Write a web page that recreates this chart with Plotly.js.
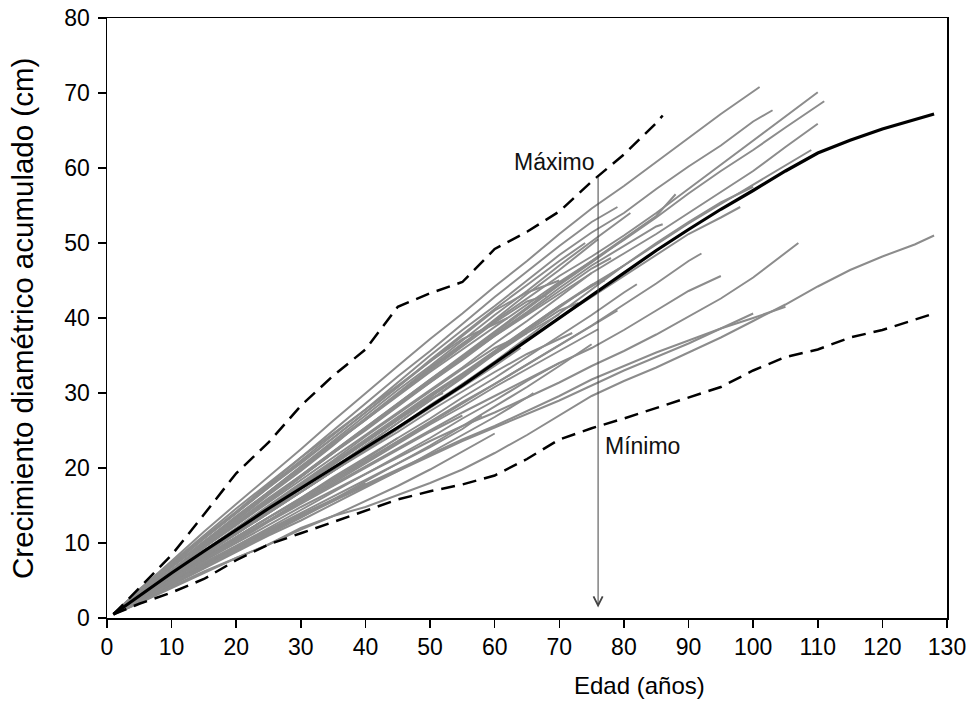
<!DOCTYPE html>
<html>
<head>
<meta charset="utf-8">
<script src="https://cdn.plot.ly/plotly-3.0.1.min.js"></script>
<style>
  html, body { margin: 0; padding: 0; background: #ffffff; }
  #grafico { width: 969px; height: 719px; }
</style>
</head>
<body>
<div id="grafico"></div>
<script>
// Ages (years) at which each ring series is sampled; the last value of every
// series belongs to that tree's final age instead.
const edades = [1, 5, 10, 15, 20, 25, 30, 35, 40, 45, 50, 55, 60, 65, 70, 75, 80, 85, 90, 95, 100, 105, 110, 115, 120, 125];

// Final age of each sampled tree
const edadFinal = [101, 103, 110, 111, 110, 109, 98, 128, 107, 105, 95, 100, 79, 72, 79, 81, 86,
  76, 78, 75, 80, 70, 68, 65, 77, 62, 74, 88, 76, 70, 66, 58, 75, 60, 55, 52, 64, 82, 92, 70, 80, 73, 45, 40, 100];

// Cumulative diameter growth (cm) of each tree
const arboles = [
  [0.5, 3.8, 7.6, 11.5, 15.2, 18.8, 22.5, 26.3, 30.0, 33.6, 37.2, 40.6, 44.2, 47.6, 51.2, 54.6, 57.6, 60.8, 63.9, 67.2, 70.2, 70.8],
  [0.5, 3.4, 7.0, 10.6, 14.0, 17.6, 21.0, 24.4, 27.8, 31.4, 35.0, 38.4, 41.6, 45.0, 48.4, 51.4, 54.0, 57.2, 60.2, 63.0, 66.2, 67.7],
  [0.5, 3.2, 6.4, 9.8, 13.0, 16.4, 19.6, 23.0, 26.6, 30.0, 33.4, 36.6, 39.6, 42.6, 45.6, 48.2, 51.0, 54.0, 57.2, 60.4, 63.6, 66.8, 70.1],
  [0.5, 3.5, 6.8, 10.0, 13.4, 16.8, 20.2, 23.2, 26.4, 29.6, 32.8, 35.8, 38.8, 41.8, 44.8, 47.6, 50.4, 53.4, 56.6, 59.6, 62.4, 65.4, 68.4, 68.9],
  [0.5, 3.0, 6.2, 9.4, 12.4, 15.6, 18.8, 22.0, 25.2, 28.4, 31.4, 34.6, 37.6, 40.4, 43.2, 46.0, 48.6, 51.2, 54.0, 56.8, 59.6, 62.8, 65.9],
  [0.5, 3.2, 6.0, 9.0, 11.8, 14.8, 17.8, 20.8, 23.8, 26.8, 29.8, 32.6, 35.6, 38.6, 41.6, 44.2, 47.0, 49.8, 52.6, 55.2, 57.8, 60.4, 62.4],
  [0.5, 2.8, 5.6, 8.6, 11.2, 14.0, 16.8, 19.6, 22.4, 25.4, 28.4, 31.2, 34.0, 37.0, 40.0, 42.8, 45.6, 48.4, 51.2, 53.4, 54.8],
  [0.5, 2.0, 4.2, 6.2, 8.0, 9.8, 12.0, 13.6, 14.8, 16.4, 18.0, 19.8, 22.0, 24.4, 27.0, 29.6, 31.6, 33.4, 35.4, 37.4, 39.6, 41.8, 44.2, 46.4, 48.2, 49.8, 51.0],
  [0.5, 2.6, 5.2, 7.6, 10.0, 12.4, 14.8, 17.0, 19.2, 21.4, 23.6, 25.6, 27.4, 29.4, 31.4, 33.6, 35.6, 37.8, 40.2, 42.6, 45.4, 48.6, 50.0],
  [0.5, 2.4, 4.8, 7.2, 9.4, 11.6, 13.8, 15.8, 17.8, 19.8, 21.8, 23.8, 25.6, 27.6, 29.6, 31.8, 33.6, 35.4, 37.0, 38.6, 40.0, 41.5],
  [0.5, 2.8, 5.4, 8.0, 10.6, 13.0, 15.4, 17.8, 20.2, 22.6, 25.0, 27.4, 29.6, 31.8, 34.0, 36.0, 38.4, 41.0, 43.6, 45.6],
  [0.5, 2.2, 4.6, 7.0, 9.2, 11.4, 13.6, 15.6, 17.6, 19.6, 21.6, 23.6, 25.4, 27.2, 29.0, 31.0, 33.0, 34.8, 36.6, 38.6, 40.6],
  [0.5, 2.8, 5.6, 8.2, 10.8, 13.4, 15.8, 18.4, 21.0, 23.6, 26.2, 28.8, 31.2, 33.8, 36.4, 39.0, 41.0],
  [0.5, 3.0, 5.8, 8.6, 11.4, 14.2, 16.8, 19.6, 22.2, 24.8, 27.6, 30.2, 32.8, 35.2, 37.2, 38.0],
  [0.5, 3.6, 7.2, 10.8, 14.2, 17.8, 21.4, 25.0, 28.6, 32.2, 35.6, 39.2, 42.8, 46.2, 49.6, 52.8, 54.8],
  [0.5, 3.4, 6.8, 10.2, 13.4, 16.8, 20.2, 23.6, 27.0, 30.4, 33.6, 37.0, 40.4, 43.6, 47.0, 50.2, 53.4, 54.0],
  [0.5, 3.2, 6.4, 9.6, 12.6, 15.6, 18.8, 22.0, 25.2, 28.4, 31.6, 34.6, 37.8, 40.8, 44.0, 47.0, 49.6, 52.2, 52.5],
  [0.5, 3.4, 6.8, 10.0, 13.2, 16.6, 19.8, 23.2, 26.4, 29.8, 33.2, 36.4, 39.8, 43.2, 46.4, 49.8, 50.5],
  [0.5, 3.0, 6.2, 9.4, 12.6, 15.6, 18.8, 22.0, 25.0, 28.2, 31.4, 34.4, 37.6, 40.6, 43.6, 46.6, 48.0],
  [0.5, 3.2, 6.4, 9.4, 12.4, 15.4, 18.4, 21.4, 24.4, 27.4, 30.4, 33.4, 36.6, 39.6, 42.8, 46.0],
  [0.5, 2.8, 5.8, 8.8, 11.8, 14.8, 17.6, 20.6, 23.6, 26.6, 29.6, 32.4, 35.4, 38.4, 41.4, 44.4, 47.0],
  [0.5, 3.6, 7.2, 10.6, 14.0, 17.4, 20.8, 24.0, 27.4, 30.8, 34.2, 37.6, 41.0, 43.4, 45.0],
  [0.5, 3.4, 6.8, 10.2, 13.6, 16.8, 20.0, 23.4, 26.6, 29.8, 33.0, 36.2, 39.4, 42.2, 43.0],
  [0.5, 3.0, 6.0, 9.0, 12.0, 15.0, 18.0, 21.0, 24.2, 27.2, 30.2, 33.2, 36.0, 38.0],
  [0.5, 3.0, 5.8, 8.6, 11.4, 14.4, 17.2, 20.0, 23.0, 26.0, 29.0, 32.2, 35.4, 38.6, 41.6, 44.4, 45.0],
  [0.5, 3.8, 7.4, 11.0, 14.6, 18.0, 21.4, 24.6, 27.8, 31.0, 34.2, 37.2, 39.2, 40.0],
  [0.5, 3.6, 7.2, 10.6, 14.0, 17.4, 20.6, 24.0, 27.4, 30.8, 34.4, 37.8, 41.2, 44.4, 47.6, 50.0],
  [0.5, 3.0, 6.2, 9.4, 12.6, 15.8, 19.0, 22.2, 25.4, 28.6, 31.8, 35.0, 38.2, 41.4, 44.6, 47.6, 50.6, 53.6, 56.5],
  [0.5, 2.6, 5.2, 7.8, 10.4, 13.0, 15.6, 18.0, 20.6, 23.2, 25.8, 28.2, 30.8, 33.2, 35.6, 38.0, 38.5],
  [0.5, 2.4, 4.8, 7.2, 9.6, 12.0, 14.4, 16.8, 19.2, 21.6, 24.0, 26.6, 29.0, 31.6, 34.0],
  [0.5, 2.2, 4.4, 6.6, 8.8, 11.0, 13.0, 15.2, 17.4, 19.6, 22.0, 24.4, 26.8, 29.4, 30.0],
  [0.5, 2.6, 5.0, 7.4, 9.6, 11.8, 14.0, 16.2, 18.4, 20.6, 22.8, 25.2, 27.0],
  [0.5, 2.4, 4.6, 6.8, 9.0, 11.2, 13.4, 15.8, 18.2, 20.6, 23.0, 25.6, 28.2, 30.8, 33.6, 36.5],
  [0.5, 2.0, 4.0, 6.0, 8.0, 9.8, 11.8, 13.6, 15.6, 17.6, 19.8, 22.2, 24.6],
  [0.5, 2.6, 5.2, 7.8, 10.2, 12.8, 15.2, 17.6, 20.0, 22.4, 24.8, 27.0],
  [0.5, 3.0, 6.0, 9.0, 11.8, 14.8, 17.6, 20.6, 23.4, 26.4, 29.2, 30.0],
  [0.5, 2.8, 5.6, 8.4, 11.2, 14.0, 16.8, 19.6, 22.4, 25.2, 28.0, 30.8, 33.6, 36.0],
  [0.5, 2.6, 5.4, 8.0, 10.8, 13.4, 16.0, 18.8, 21.4, 24.0, 26.6, 29.4, 32.0, 34.8, 37.6, 40.4, 43.4, 44.5],
  [0.5, 2.6, 5.2, 7.8, 10.4, 13.0, 15.6, 18.2, 20.8, 23.4, 26.0, 28.6, 31.2, 33.8, 36.4, 39.0, 41.8, 44.6, 47.6, 48.6],
  [0.5, 3.0, 5.8, 8.8, 11.6, 14.6, 17.6, 20.4, 23.4, 26.4, 29.4, 32.4, 35.2, 38.0, 40.5],
  [0.5, 3.2, 6.4, 9.6, 12.8, 16.0, 19.0, 22.2, 25.4, 28.6, 31.8, 34.8, 38.0, 41.2, 44.4, 47.4, 50.5],
  [0.5, 2.8, 5.6, 8.4, 11.4, 14.2, 17.2, 20.0, 23.0, 26.0, 29.0, 32.0, 35.2, 38.2, 41.0, 42.0],
  [0.5, 2.8, 5.6, 8.2, 10.8, 13.4, 16.0, 18.6, 21.2, 24.0],
  [0.5, 2.4, 4.6, 6.8, 9.0, 11.2, 13.4, 15.6, 18.0],
  [0.5, 2.8, 5.6, 8.4, 11.2, 14.0, 16.8, 19.6, 22.4, 25.2, 28.2, 31.2, 34.2, 37.4, 40.6, 43.8, 47.0, 50.0, 52.8, 55.4, 57.5]
];

// Mean growth curve and the upper / lower envelope curves
const media = [0.5, 3.0, 6.0, 8.9, 11.8, 14.6, 17.3, 20.0, 22.6, 25.4, 28.2, 31.0, 34.0, 37.0, 40.0, 43.0, 46.0, 49.0, 51.8, 54.5, 57.0, 59.6, 62.0, 63.7, 65.2, 66.4, 67.2];
const edadFinalMedia = 128;
const maximo = [0.5, 4.0, 8.4, 13.8, 19.3, 23.4, 28.3, 32.3, 35.8, 41.5, 43.3, 44.8, 49.2, 51.5, 54.2, 58.2, 61.8, 66.0, 67.0];
const edadFinalMaximo = 86;
const minimo = [0.5, 1.9, 3.4, 5.2, 7.7, 9.8, 11.3, 12.8, 14.2, 15.8, 16.9, 17.8, 19.0, 21.2, 23.8, 25.3, 26.6, 28.0, 29.3, 30.8, 33.0, 34.8, 35.8, 37.4, 38.4, 39.8, 40.6];
const edadFinalMinimo = 128;

// Reference age marked by the arrow, and the envelope values there
const edadReferencia = 76;
const maximoEnReferencia = 59;
const flechaFin = 1.4;

const ticksX = [0, 10, 20, 30, 40, 50, 60, 70, 80, 90, 100, 110, 120, 130];
const ticksY = [0, 10, 20, 30, 40, 50, 60, 70, 80];

function edadesDe(valores, fin) {
  const x = edades.filter(e => e < fin).slice(0, valores.length - 1);
  x.push(fin);
  return x;
}

const FUENTE = 'Liberation Sans, Arial, Helvetica, sans-serif';
const trazas = [];

arboles.forEach((valores, i) => {
  trazas.push({
    type: 'scatter', mode: 'lines',
    x: edadesDe(valores, edadFinal[i]), y: valores,
    line: { color: '#8c8c8c', width: 2 },
    hoverinfo: 'skip', showlegend: false
  });
});

trazas.push({
  type: 'scatter', mode: 'lines', name: 'Media',
  x: edadesDe(media, edadFinalMedia), y: media,
  line: { color: '#000000', width: 3.2 }, showlegend: false
});
trazas.push({
  type: 'scatter', mode: 'lines', name: 'Máximo',
  x: edadesDe(maximo, edadFinalMaximo), y: maximo,
  line: { color: '#000000', width: 2.5, dash: '14px,8px' }, showlegend: false
});
trazas.push({
  type: 'scatter', mode: 'lines', name: 'Mínimo',
  x: edadesDe(minimo, edadFinalMinimo), y: minimo,
  line: { color: '#000000', width: 2.5, dash: '14px,8px' }, showlegend: false
});

const ejeComun = {
  showgrid: false, zeroline: false,
  showline: true, linecolor: '#000000', linewidth: 1.5, mirror: true,
  ticks: 'outside', ticklen: 8, tickwidth: 1.5, tickcolor: '#000000',
  tickfont: { family: FUENTE, size: 23, color: '#000000' }
};

const layout = {
  width: 969, height: 719,
  paper_bgcolor: '#ffffff', plot_bgcolor: '#ffffff',
  margin: { l: 107, r: 22, t: 18, b: 101 },
  showlegend: false,
  xaxis: Object.assign({}, ejeComun, {
    range: [0, 130], tickvals: ticksX, ticktext: ticksX.map(String)
  }),
  yaxis: Object.assign({}, ejeComun, {
    range: [0, 80], tickvals: ticksY, ticktext: ticksY.map(String),
    ticklabelstandoff: 3
  }),
  annotations: [
    // axis titles
    {
      x: 0.6345, y: -0.113, xref: 'paper', yref: 'paper', text: 'Edad (años)', showarrow: false,
      xanchor: 'center', yanchor: 'middle',
      font: { family: FUENTE, size: 24, color: '#000000' }
    },
    {
      x: -0.1012, y: 0.5, xref: 'paper', yref: 'paper', text: 'Crecimiento diamétrico acumulado (cm)',
      showarrow: false, textangle: -90, xanchor: 'center', yanchor: 'middle',
      font: { family: FUENTE, size: 29.5, color: '#000000' }
    },
    // arrow at the reference age, from the maximum envelope down to the axis
    {
      x: edadReferencia, y: flechaFin, xref: 'x', yref: 'y',
      ax: edadReferencia, ay: maximoEnReferencia, axref: 'x', ayref: 'y',
      text: '', showarrow: true, arrowhead: 5, arrowsize: 1.8, arrowwidth: 1, arrowcolor: '#444444', standoff: 0
    },
    {
      x: 69.3, y: 60.8, xref: 'x', yref: 'y', text: 'Máximo', showarrow: false,
      xanchor: 'center', yanchor: 'middle',
      font: { family: FUENTE, size: 23, color: '#111111' }
    },
    {
      x: 76.8, y: 22.9, xref: 'x', yref: 'y', text: 'Mínimo', showarrow: false,
      xanchor: 'left', yanchor: 'middle',
      font: { family: FUENTE, size: 23, color: '#111111' }
    }
  ]
};

Plotly.newPlot('grafico', trazas, layout, { staticPlot: true, displayModeBar: false });
</script>
</body>
</html>
